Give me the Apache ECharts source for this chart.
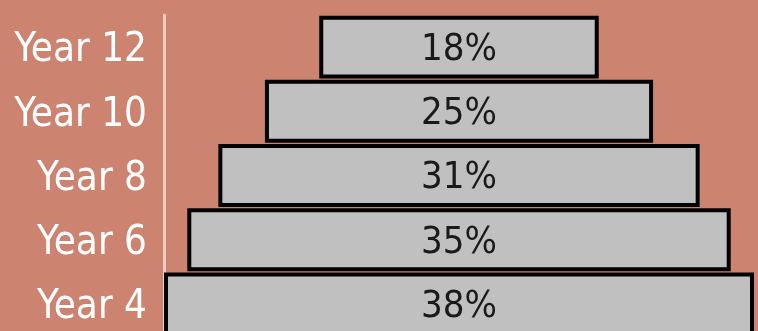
<!DOCTYPE html>
<html>
<head>
<meta charset="utf-8">
<script src="https://cdn.jsdelivr.net/npm/echarts@6/dist/echarts.min.js"></script>
<style>
  html, body { margin: 0; padding: 0; background: #cc8471; overflow: hidden; }
  /* a bit taller than the window: the bottom bar is cut off in the original */
  #chart { width: 758px; height: 336px; }
</style>
</head>
<body>
<div id="chart"></div>
<script>
// categories bottom -> top
const categories = ['Year 4', 'Year 6', 'Year 8', 'Year 10', 'Year 12'];
const shares = [38, 35, 31, 25, 18];
const widest = 38;
// invisible spacer so each bar sits centred
const spacer = shares.map(v => (widest - v) / 2);

const font = '"DejaVu Sans Condensed", "DejaVu Sans", sans-serif';

const chart = echarts.init(document.getElementById('chart'));
chart.setOption({
    animation: false,
    backgroundColor: '#cc8471',
    grid: { left: 164, right: 4, top: 15, bottom: 0 },
    xAxis: { type: 'value', min: 0, max: widest, show: false },
    yAxis: {
        type: 'category',
        data: categories,
        axisLine: { show: true, lineStyle: { color: 'rgba(255,236,230,0.7)', width: 3 } },
        axisTick: { show: false },
        splitLine: { show: false },
        axisLabel: {
            margin: 17,
            formatter: v => '{t|' + v + '}',
            rich: {
                t: {
                    color: '#fff',
                    fontSize: 40,
                    fontFamily: font,
                    padding: [8, 0, 0, 0]
                }
            }
        }
    },
    series: [
        {
            type: 'bar',
            stack: 'pyramid',
            data: spacer,
            silent: true,
            barCategoryGap: '2%',
            itemStyle: { color: 'transparent' }
        },
        {
            type: 'bar',
            stack: 'pyramid',
            data: shares,
            barCategoryGap: '2%',
            itemStyle: { color: '#c0c0c0', borderColor: '#000', borderWidth: 4 },
            label: {
                show: true,
                position: 'inside',
                formatter: '{c}%',
                color: '#1a1a1a',
                fontSize: 38,
                fontFamily: font,
                offset: [0, 3]
            }
        }
    ]
});
</script>
</body>
</html>
